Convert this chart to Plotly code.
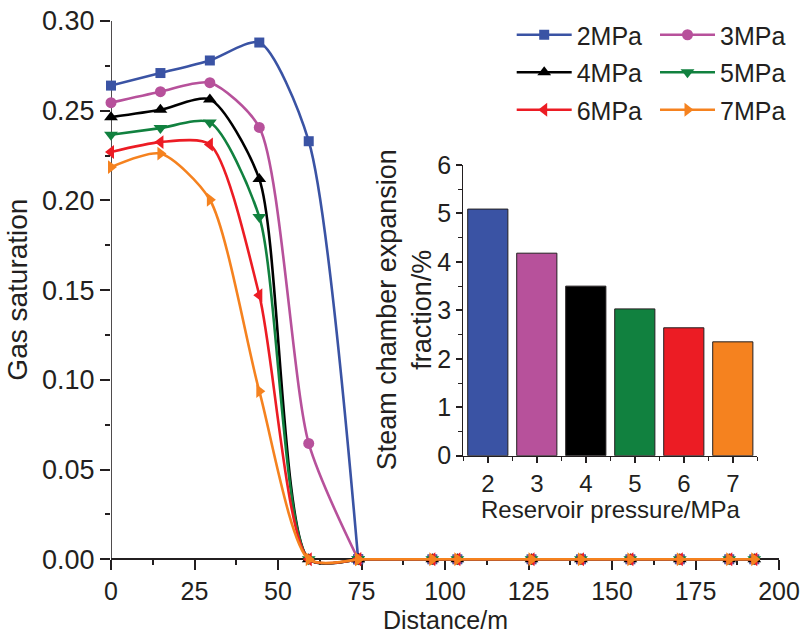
import plotly.graph_objects as go

# ---------------- data ----------------
distance = [0, 14.8, 29.6, 44.4, 59.2, 74.0, 96.2, 103.7, 125.9, 140.7, 155.5, 170.3, 185.1, 192.6]
sat_2mpa = [0.264, 0.271, 0.278, 0.288, 0.233, 0, 0, 0, 0, 0, 0, 0, 0, 0]
sat_3mpa = [0.2545, 0.2606, 0.2656, 0.2407, 0.0646, 0, 0, 0, 0, 0, 0, 0, 0, 0]
sat_4mpa = [0.2464, 0.2505, 0.2563, 0.2119, 0, 0, 0, 0, 0, 0, 0, 0, 0, 0]
sat_5mpa = [0.2366, 0.2403, 0.2435, 0.1908, 0, 0, 0, 0, 0, 0, 0, 0, 0, 0]
sat_6mpa = [0.2270, 0.2325, 0.2312, 0.1472, 0, 0, 0, 0, 0, 0, 0, 0, 0, 0]
sat_7mpa = [0.2186, 0.2261, 0.2004, 0.0937, 0, 0, 0, 0, 0, 0, 0, 0, 0, 0]
series_names = ["2MPa", "3MPa", "4MPa", "5MPa", "6MPa", "7MPa"]

pressure = [2, 3, 4, 5, 6, 7]
expansion_frac = [5.09, 4.18, 3.50, 3.03, 2.64, 2.35]

y_ticks = [0.00, 0.05, 0.10, 0.15, 0.20, 0.25, 0.30]
x_ticks = [0, 25, 50, 75, 100, 125, 150, 175, 200]

# ---------------- styles ----------------
colors = ["#3A53A4", "#B7519B", "#000000", "#11813F", "#EC1C24", "#F5821F"]
symbols = ["square", "circle", "triangle-up", "triangle-down", "triangle-left", "triangle-right"]
msizes = [10, 11, 12, 12, 12, 12]
legends = ["legend", "legend2", "legend", "legend2", "legend", "legend2"]
FONT = "Liberation Sans, Arial, sans-serif"

W, H = 803, 637
ML, MR, MT, MB = 111, 24, 21, 15
PW, PH = W - ML - MR, H - MT - MB
zero_px = 559.3
plot_bottom = H - MB
y_low = -0.30 * (plot_bottom - zero_px) / (zero_px - MT)
xaxis_pos = (plot_bottom - zero_px) / PH


def px_x(p):
    return (p - ML) / PW


def px_y(p):
    return (plot_bottom - p) / PH


fig = go.Figure()

split = 5
all_series = [sat_2mpa, sat_3mpa, sat_4mpa, sat_5mpa, sat_6mpa, sat_7mpa]
for i, (name, ys) in enumerate(zip(series_names, all_series)):
    fig.add_trace(go.Scatter(
        x=distance[:split + 1], y=ys[:split + 1], name=name,
        mode="lines+markers", line=dict(color=colors[i], width=2.6, shape="spline", smoothing=0.7),
        marker=dict(symbol=symbols[i], size=msizes[i], color=colors[i]),
        legend=legends[i], legendgroup=name, cliponaxis=False,
    ))
    fig.add_trace(go.Scatter(
        x=distance[split:], y=ys[split:], name=name, showlegend=False,
        mode="lines+markers", line=dict(color=colors[i], width=2.6),
        marker=dict(symbol=symbols[i], size=msizes[i], color=colors[i]),
        legendgroup=name, cliponaxis=False,
    ))

fig.add_trace(go.Bar(
    x=pressure, y=expansion_frac, xaxis="x2", yaxis="y2", width=0.82,
    marker=dict(color=colors, line=dict(color="#231F20", width=1)),
    showlegend=False,
))

# main y-axis line (only from 0 to 0.30)
fig.add_shape(type="line", xref="x", yref="y", x0=0, x1=0, y0=0, y1=0.30,
              line=dict(color="#231F20", width=1.6), layer="below")

axis_common = dict(color="#231F20", linecolor="#231F20", tickcolor="#231F20",
                   showgrid=False, zeroline=False, ticks="outside", tickwidth=1.5,
                   automargin=False)

fig.update_layout(
    width=W, height=H,
    margin=dict(l=ML, r=MR, t=MT, b=MB, pad=0),
    paper_bgcolor="white", plot_bgcolor="rgba(0,0,0,0)",
    font=dict(family=FONT, size=25, color="#231F20"),
    xaxis=dict(**axis_common, range=[0, 200], anchor="free", position=xaxis_pos,
               showline=True, linewidth=1.6, tickvals=x_ticks, ticklen=10,
               layer="below traces",
               minor=dict(tickmode="array", tickvals=[12.5 + 25 * k for k in range(8)],
                          ticklen=5, ticks="outside", tickwidth=1.5, tickcolor="#231F20"),
               tickfont=dict(size=25)),
    yaxis=dict(**axis_common, range=[y_low, 0.30], showline=False, tickvals=y_ticks,
               tickformat=".2f", ticklen=10,
               minor=dict(tickmode="array", tickvals=[0.025 + 0.05 * k for k in range(6)],
                          ticklen=5, ticks="outside", tickwidth=1.5, tickcolor="#231F20"),
               tickfont=dict(size=27)),
    xaxis2=dict(**axis_common, domain=[px_x(463.3), px_x(757.3)], anchor="y2",
                range=[1.5, 7.5], showline=True, linewidth=1.2, tickvals=pressure, ticklen=6,
                minor=dict(tickmode="array", tickvals=[1.5 + k for k in range(7)],
                           ticklen=4, ticks="outside", tickwidth=1.2, tickcolor="#231F20"),
                tickfont=dict(size=24)),
    yaxis2=dict(**axis_common, domain=[px_y(455.7), px_y(165)], anchor="x2",
                range=[0, 6], showline=True, linewidth=1.2, dtick=1, ticklen=6,
                minor=dict(dtick=0.5, ticklen=4, ticks="outside", tickwidth=1.2, tickcolor="#231F20"),
                tickfont=dict(size=25)),
    legend=dict(x=px_x(511.7), y=px_y(12), xanchor="left", yanchor="top",
                bgcolor="rgba(0,0,0,0)", borderwidth=0, itemwidth=55,
                tracegroupgap=2, font=dict(size=25)),
    legend2=dict(x=px_x(655), y=px_y(12), xanchor="left", yanchor="top",
                 bgcolor="rgba(0,0,0,0)", borderwidth=0, itemwidth=55,
                 tracegroupgap=2, font=dict(size=25)),
)

fig.add_annotation(text="Gas saturation", textangle=-90, xref="paper", yref="y",
                   x=px_x(17.5), y=0.15, xanchor="center", yanchor="middle",
                   showarrow=False, font=dict(size=28))
fig.add_annotation(text="Distance/m", xref="x", yref="paper", x=100, y=px_y(620),
                   xanchor="center", yanchor="middle", showarrow=False, font=dict(size=25))
fig.add_annotation(text="Steam chamber expansion<br>fraction/%", textangle=-90,
                   xref="paper", yref="y2", x=px_x(404), y=3, xanchor="center",
                   yanchor="middle", showarrow=False, font=dict(size=27))
fig.add_annotation(text="Reservoir pressure/MPa", xref="x2", yref="paper", x=4.5,
                   y=px_y(510), xanchor="center", yanchor="middle", showarrow=False,
                   font=dict(size=24))

fig.write_html("out.html")
